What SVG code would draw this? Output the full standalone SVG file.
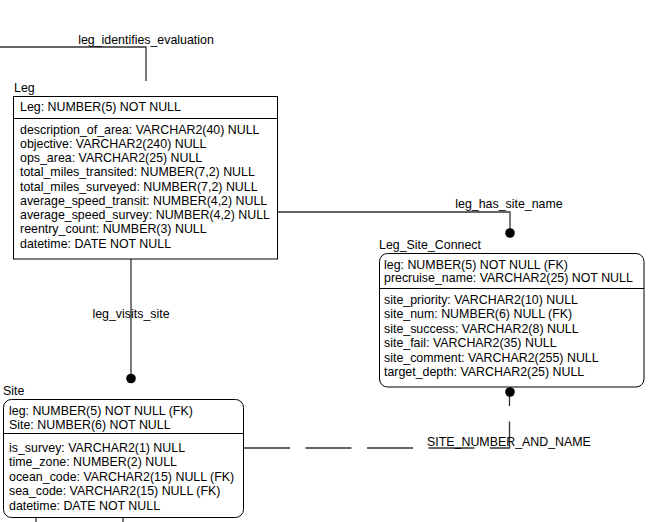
<svg xmlns="http://www.w3.org/2000/svg" width="656" height="522" viewBox="0 0 656 522">
<style>
text{font-family:"Liberation Sans",Arial,sans-serif;font-size:12.4px;fill:#000}
.box{fill:#fff;stroke:#000;stroke-width:1}
.div{stroke:#000;stroke-width:1}
.conn{fill:none;stroke:#333;stroke-width:1.3}
.dash{stroke-dasharray:46 15.5}
.lbl{text-anchor:middle}
</style>
<rect width="656" height="522" fill="#fff"/>
<g id="connectors">
  <path class="conn" d="M0,47 H146 V81"/>
  <text class="lbl" x="146" y="44">leg_identifies_evaluation</text>
  <path class="conn" d="M278,212 H510 V230"/>
  <circle cx="510" cy="233" r="4.8" fill="#000"/>
  <text class="lbl" x="509" y="208">leg_has_site_name</text>
  <path class="conn" d="M131,259 V376"/>
  <circle cx="131" cy="378.5" r="4.8" fill="#000"/>
  <text class="lbl" x="131" y="318">leg_visits_site</text>
  <path class="conn dash" d="M244,448 H509.5 V394"/>
  <circle cx="510" cy="392" r="4.8" fill="#000"/>
  <text x="427" y="445.5">SITE_NUMBER_AND_NAME</text>
  <path class="conn" d="M36,518 V522 M123,518 V522"/>
</g>
<g id="Leg">
  <text x="14" y="92">Leg</text>
  <rect class="box" x="13.5" y="96.5" width="264" height="162.5"/>
  <line class="div" x1="13.5" y1="118.5" x2="277.5" y2="118.5"/>
  <text x="20" y="111">Leg: NUMBER(5) NOT NULL</text>
  <text x="20" y="133.5">description_of_area: VARCHAR2(40) NULL</text>
  <text x="20" y="147.8">objective: VARCHAR2(240) NULL</text>
  <text x="20" y="162">ops_area: VARCHAR2(25) NULL</text>
  <text x="20" y="176.3">total_miles_transited: NUMBER(7,2) NULL</text>
  <text x="20" y="190.5">total_miles_surveyed: NUMBER(7,2) NULL</text>
  <text x="20" y="204.8">average_speed_transit: NUMBER(4,2) NULL</text>
  <text x="20" y="219">average_speed_survey: NUMBER(4,2) NULL</text>
  <text x="20" y="233.3">reentry_count: NUMBER(3) NULL</text>
  <text x="20" y="247.5">datetime: DATE NOT NULL</text>
</g>
<g id="Leg_Site_Connect">
  <text x="379" y="249">Leg_Site_Connect</text>
  <rect class="box" x="379.5" y="253.5" width="264.5" height="133.5" rx="8" ry="8"/>
  <line class="div" x1="379.5" y1="288.5" x2="644" y2="288.5"/>
  <text x="384" y="268.5">leg: NUMBER(5) NOT NULL (FK)</text>
  <text x="384" y="282">precruise_name: VARCHAR2(25) NOT NULL</text>
  <text x="384" y="304">site_priority: VARCHAR2(10) NULL</text>
  <text x="384" y="318.4">site_num: NUMBER(6) NULL (FK)</text>
  <text x="384" y="332.8">site_success: VARCHAR2(8) NULL</text>
  <text x="384" y="347.2">site_fail: VARCHAR2(35) NULL</text>
  <text x="384" y="361.6">site_comment: VARCHAR2(255) NULL</text>
  <text x="384" y="376">target_depth: VARCHAR2(25) NULL</text>
</g>
<g id="Site">
  <text x="3" y="395">Site</text>
  <rect class="box" x="3.5" y="399.5" width="240" height="118" rx="8" ry="8"/>
  <line class="div" x1="3.5" y1="433.5" x2="243.5" y2="433.5"/>
  <text x="9" y="415">leg: NUMBER(5) NOT NULL (FK)</text>
  <text x="9" y="428.5">Site: NUMBER(6) NOT NULL</text>
  <text x="9" y="452">is_survey: VARCHAR2(1) NULL</text>
  <text x="9" y="466.4">time_zone: NUMBER(2) NULL</text>
  <text x="9" y="480.8">ocean_code: VARCHAR2(15) NULL (FK)</text>
  <text x="9" y="495.2">sea_code: VARCHAR2(15) NULL (FK)</text>
  <text x="9" y="509.6">datetime: DATE NOT NULL</text>
</g>
</svg>
